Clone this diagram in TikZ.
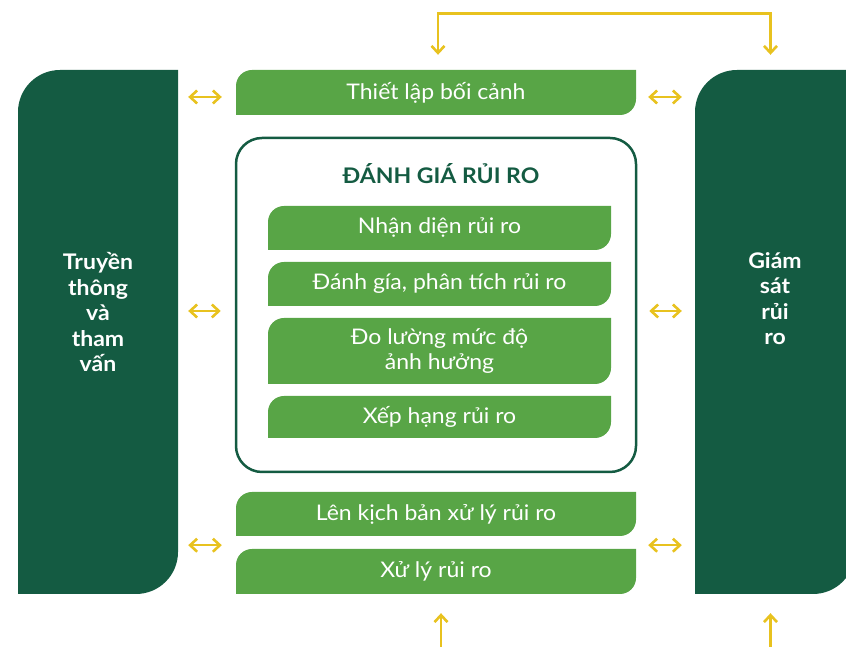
\documentclass[tikz,border=0pt]{standalone}
\usepackage{fontspec}
\setmainfont{Lato}[FakeStretch=1.07]
\usetikzlibrary{arrows.meta,positioning,calc}
\definecolor{xanhdam}{HTML}{145B42}
\definecolor{xanhla}{HTML}{58A546}
\definecolor{vang}{HTML}{E8C21F}
\newcommand{\chu}{\fontsize{21.5}{25.5}\selectfont}
\tikzset{
  bankinh/.store in=\bankinh, bankinh=16pt,
  phandu/.store in=\phandu, phandu=0pt,
  canhla/.style={path picture={
    \fill[#1] (path picture bounding box.south west)
      -- ([yshift=-\bankinh]path picture bounding box.north west)
      arc[start angle=180,end angle=90,radius=\bankinh]
      -- ([xshift=\phandu]path picture bounding box.north east)
      -- ([xshift=\phandu,yshift=\bankinh]path picture bounding box.south east)
      arc[start angle=0,end angle=-90,radius=\bankinh]
      -- cycle;}},
  thanh/.style={canhla=xanhla, text=white, font=\chu, align=center, inner sep=0pt},
  cot/.style={canhla=xanhdam, bankinh=42pt, minimum height=524pt, inner sep=0pt},
  chucot/.style={text=white, font=\chu\bfseries, align=center},
  duongvang/.style={vang, line width=2.6pt}
}
\begin{document}
\begin{tikzpicture}[x=1pt,y=1pt,>={Straight Barb[length=7pt,width=13pt]}]
  \useasboundingbox (0,0) rectangle (846,647);
  % hai cot hai ben
  \node[cot, minimum width=160pt] (truyen) at (98,315) {};
  \node[cot, minimum width=151pt, phandu=9pt] (giamsat) at (770.5,315) {};
  \node[chucot, anchor=north] (truyenchu) at (98,398) {Truyền\\thông\\và\\tham\\vấn};
  \node[chucot, anchor=north] (giamsatchu) at (775,398) {Giám\\sát\\rủi\\ro};
  % cot giua
  \node[thanh, minimum width=400pt, minimum height=45pt] (thietlap) at (436,554.5) {Thiết lập bối cảnh};
  \node[draw=xanhdam, line width=2.5pt, rounded corners=26pt, minimum width=400pt, minimum height=334pt] (danhgia) at (436,342) {};
  \node[font=\chu\bfseries, text=xanhdam, anchor=base] (tieude) at (441,463) {ĐÁNH GIÁ RỦI RO};
  \foreach \ten/\y/\h/\txt in {nhandien/419/44/{Nhận diện rủi ro},
                               phantich/363/44/{Đánh gía, phân tích rủi ro},
                               doluong/296/66/{Đo lường mức độ\\ảnh hưởng},
                               xephang/230/42/{Xếp hạng rủi ro}}{
    \node[thanh, minimum width=343pt, minimum height=\h pt] (\ten) at (439.5,\y) {\txt};
  }
  \node[thanh, minimum width=400pt, minimum height=44pt] (kichban) at (436,133) {Lên kịch bản xử lý rủi ro};
  \node[thanh, minimum width=400pt, minimum height=45pt] (xuly) at (436,75.5) {Xử lý rủi ro};
  % mui ten
  \coordinate (h1) at ([yshift=-4.5pt]thietlap.west);
  \coordinate (h2) at ([yshift=-6pt]danhgia.west);
  \coordinate (h3) at ([yshift=-9pt]kichban.south west);
  \foreach \h/\b in {h1/thietlap, h2/danhgia, h3/kichban}{
    \draw[duongvang, <->, shorten <=10pt, shorten >=14pt] (\h -| truyen.east) -- (\h -| \b.west);
    \draw[duongvang, <->, shorten <=12pt, shorten >=13pt] (\h -| \b.east) -- (\h -| giamsat.west);
  }
  \draw[duongvang, <->, shorten <=15pt, shorten >=15pt] ([xshift=2pt]thietlap.north) -- ++(0,56) -| (giamsat.north);
  \coordinate (day1) at (441,0);
  \coordinate (day2) at (770.5,0);
  \draw[duongvang, ->, shorten >=19pt] (day1) -- (day1 |- xuly.south);
  \draw[duongvang, ->, shorten >=19pt] (day2) -- (giamsat.south);
\end{tikzpicture}
\end{document}
